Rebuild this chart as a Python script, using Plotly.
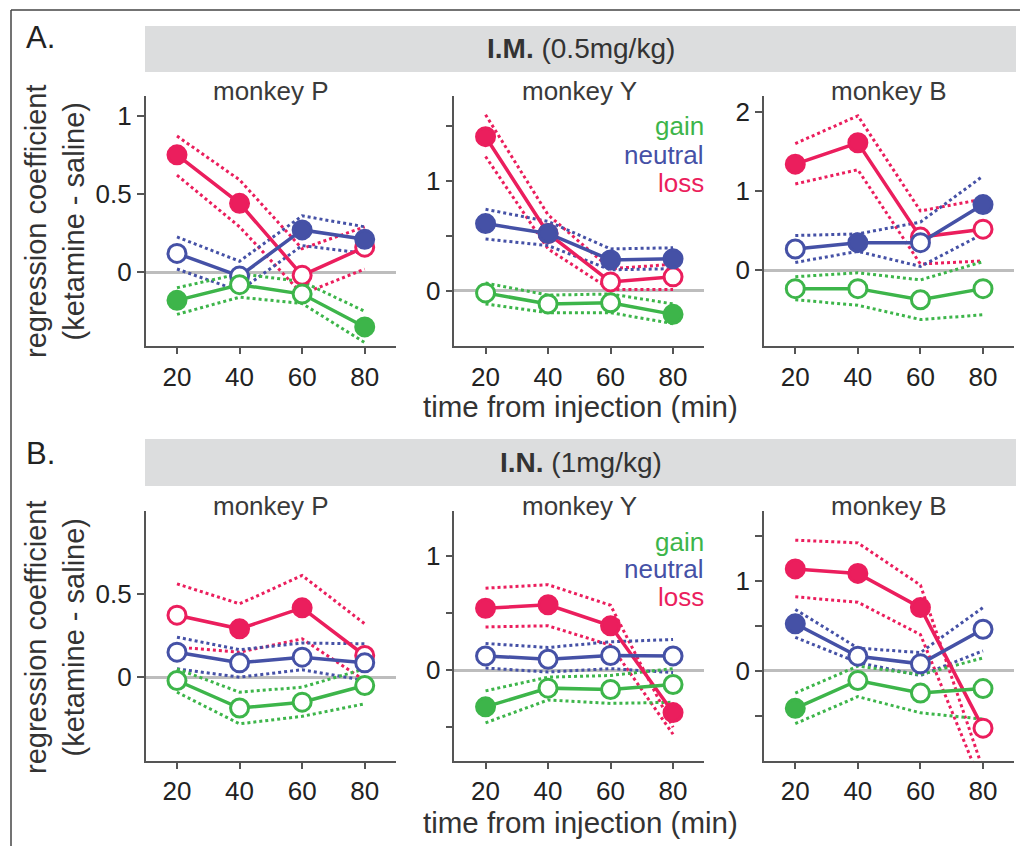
import plotly.graph_objects as go

# page body has an 8px margin: the figure is placed at (8, 8)
OFF = 8
W, H = 1020, 838

TIMES = [20, 40, 60, 80]
CONDITIONS = ["loss", "neutral", "gain"]  # drawing order
COLORS = {"gain": "#3DB54A", "neutral": "#4551A6", "loss": "#EB1E5D"}

# ---------------- A. I.M. (0.5mg/kg) ----------------
# monkey P
IM_P_gain = [-0.18, -0.08, -0.14, -0.35]
IM_P_gain_hi = [-0.10, -0.01, -0.06, -0.25]
IM_P_gain_lo = [-0.27, -0.16, -0.20, -0.45]
IM_P_gain_sig = [1, 0, 0, 1]
IM_P_neutral = [0.12, -0.025, 0.27, 0.21]
IM_P_neutral_hi = [0.225, 0.07, 0.36, 0.29]
IM_P_neutral_lo = [0.02, -0.12, 0.17, 0.12]
IM_P_neutral_sig = [0, 0, 1, 1]
IM_P_loss = [0.75, 0.44, -0.02, 0.16]
IM_P_loss_hi = [0.87, 0.59, 0.15, 0.29]
IM_P_loss_lo = [0.62, 0.29, -0.14, 0.02]
IM_P_loss_sig = [1, 1, 0, 0]
# monkey Y
IM_Y_gain = [-0.02, -0.12, -0.11, -0.215]
IM_Y_gain_hi = [0.07, -0.04, -0.03, -0.12]
IM_Y_gain_lo = [-0.12, -0.20, -0.20, -0.30]
IM_Y_gain_sig = [0, 0, 0, 1]
IM_Y_neutral = [0.61, 0.52, 0.28, 0.29]
IM_Y_neutral_hi = [0.74, 0.63, 0.38, 0.39]
IM_Y_neutral_lo = [0.47, 0.41, 0.19, 0.20]
IM_Y_neutral_sig = [1, 1, 1, 1]
IM_Y_loss = [1.40, 0.52, 0.08, 0.126]
IM_Y_loss_hi = [1.60, 0.69, 0.20, 0.24]
IM_Y_loss_lo = [1.22, 0.38, 0.01, 0.01]
IM_Y_loss_sig = [1, 1, 0, 0]
# monkey B
IM_B_gain = [-0.23, -0.23, -0.37, -0.23]
IM_B_gain_hi = [-0.08, -0.03, -0.12, 0.11]
IM_B_gain_lo = [-0.37, -0.44, -0.62, -0.56]
IM_B_gain_sig = [0, 0, 0, 0]
IM_B_neutral = [0.27, 0.35, 0.35, 0.83]
IM_B_neutral_hi = [0.44, 0.46, 0.61, 1.19]
IM_B_neutral_lo = [0.10, 0.24, 0.05, 0.46]
IM_B_neutral_sig = [0, 1, 0, 1]
IM_B_loss = [1.34, 1.61, 0.42, 0.52]
IM_B_loss_hi = [1.60, 1.95, 0.75, 0.90]
IM_B_loss_lo = [1.09, 1.27, 0.08, 0.12]
IM_B_loss_sig = [1, 1, 0, 0]

# ---------------- B. I.N. (1mg/kg) ----------------
# monkey P
IN_P_gain = [-0.02, -0.185, -0.15, -0.05]
IN_P_gain_hi = [0.05, -0.09, -0.06, 0.05]
IN_P_gain_lo = [-0.09, -0.28, -0.235, -0.16]
IN_P_gain_sig = [0, 0, 0, 0]
IN_P_neutral = [0.15, 0.086, 0.12, 0.086]
IN_P_neutral_hi = [0.24, 0.165, 0.205, 0.20]
IN_P_neutral_lo = [0.05, 0.0, 0.045, -0.02]
IN_P_neutral_sig = [0, 0, 0, 0]
IN_P_loss = [0.372, 0.29, 0.416, 0.13]
IN_P_loss_hi = [0.56, 0.44, 0.61, 0.32]
IN_P_loss_lo = [0.18, 0.15, 0.23, -0.02]
IN_P_loss_sig = [0, 1, 1, 0]
# monkey Y
IN_Y_gain = [-0.32, -0.156, -0.168, -0.124]
IN_Y_gain_hi = [-0.18, -0.06, -0.045, 0.015]
IN_Y_gain_lo = [-0.46, -0.26, -0.29, -0.28]
IN_Y_gain_sig = [1, 0, 0, 0]
IN_Y_neutral = [0.126, 0.097, 0.13, 0.126]
IN_Y_neutral_hi = [0.235, 0.20, 0.25, 0.27]
IN_Y_neutral_lo = [0.02, -0.015, 0.015, -0.02]
IN_Y_neutral_sig = [0, 0, 0, 0]
IN_Y_loss = [0.544, 0.574, 0.39, -0.37]
IN_Y_loss_hi = [0.72, 0.75, 0.57, -0.50]
IN_Y_loss_lo = [0.38, 0.39, 0.22, -0.56]
IN_Y_loss_sig = [1, 1, 1, 1]
# monkey B
IN_B_gain = [-0.42, -0.11, -0.25, -0.20]
IN_B_gain_hi = [-0.25, 0.05, -0.045, 0.14]
IN_B_gain_lo = [-0.59, -0.29, -0.47, -0.54]
IN_B_gain_sig = [1, 0, 0, 0]
IN_B_neutral = [0.52, 0.16, 0.075, 0.46]
IN_B_neutral_hi = [0.68, 0.25, 0.20, 0.70]
IN_B_neutral_lo = [0.37, 0.09, -0.055, 0.22]
IN_B_neutral_sig = [1, 0, 0, 0]
IN_B_loss = [1.13, 1.08, 0.70, -0.64]
IN_B_loss_hi = [1.45, 1.42, 0.95, -1.10]
IN_B_loss_lo = [0.82, 0.76, 0.40, -1.30]
IN_B_loss_sig = [1, 1, 1, 0]

MONKEYS = ["P", "Y", "B"]
Y_RANGES = {
    ("IM", "P"): [-0.47, 1.126], ("IM", "Y"): [-0.5, 1.77], ("IM", "B"): [-0.95, 2.2],
    ("IN", "P"): [-0.5, 1.0], ("IN", "Y"): [-0.79, 1.4], ("IN", "B"): [-1.0, 1.78],
}
Y_TICKS = {
    ("IM", "P"): ([0, 0.5, 1], ["0", "0.5", "1"]),
    ("IM", "Y"): ([0, 0.5, 1, 1.5], ["0", "", "1", ""]),
    ("IM", "B"): ([0, 1, 2], ["0", "1", "2"]),
    ("IN", "P"): ([0, 0.5], ["0", "0.5"]),
    ("IN", "Y"): ([-0.5, 0, 0.5, 1], ["", "0", "", "1"]),
    ("IN", "B"): ([-0.5, 0, 0.5, 1, 1.5], ["", "0", "", "1", ""]),
}

g = globals()


def series(row, mk, cond):
    base = f"{row}_{mk}_{cond}"
    return g[base], g[base + "_hi"], g[base + "_lo"], g[base + "_sig"]


def fx(px):
    return (px - OFF) / W


def fy(py):
    return 1 - (py - OFF) / H


COL_DOM = [(145.7, 396.0), (454.3, 704.3), (764.0, 1014.3)]
ROW_DOM = {"IM": (96.0, 345.7), "IN": (510.5, 760.5)}

FONT = "Liberation Sans, Arial, Helvetica, sans-serif"
TXT = "#333333"
AX = "#555555"

fig = go.Figure()
layout = dict(
    width=W, height=H, margin=dict(l=0, r=0, t=0, b=0),
    paper_bgcolor="white", plot_bgcolor="white", showlegend=False,
    font=dict(family=FONT, color=TXT),
)
annotations = []
shapes = []

idx = 0
for row in ["IM", "IN"]:
    for ci, mk in enumerate(MONKEYS):
        idx += 1
        xa = "x" if idx == 1 else f"x{idx}"
        ya = "y" if idx == 1 else f"y{idx}"
        xkey = "xaxis" if idx == 1 else f"xaxis{idx}"
        ykey = "yaxis" if idx == 1 else f"yaxis{idx}"
        x0, x1 = COL_DOM[ci]
        ytop, ybot = ROW_DOM[row]
        layout[xkey] = dict(
            domain=[fx(x0), fx(x1)], anchor=ya, range=[10, 90],
            tickvals=TIMES, ticktext=[str(t) for t in TIMES],
            showgrid=False, zeroline=False, showline=True, linecolor=AX, linewidth=1.5,
            ticks="outside", ticklen=7, tickwidth=1.5, tickcolor=AX,
            tickfont=dict(size=26, color="#222222", family=FONT),
        )
        tv, tt = Y_TICKS[(row, mk)]
        layout[ykey] = dict(
            domain=[fy(ybot), fy(ytop)], anchor=xa, range=Y_RANGES[(row, mk)],
            tickvals=tv, ticktext=tt,
            showgrid=False, zeroline=True, zerolinecolor="#BDBDBD", zerolinewidth=2.5,
            showline=True, linecolor=AX, linewidth=1.5,
            ticks="outside", ticklen=7, tickwidth=1.5, tickcolor=AX,
            tickfont=dict(size=26, color="#222222", family=FONT),
        )
        # dotted CI lines
        for cond in CONDITIONS:
            m, hi, lo, sig = series(row, mk, cond)
            for b in (hi, lo):
                fig.add_trace(go.Scatter(
                    x=TIMES, y=b, xaxis=xa, yaxis=ya, mode="lines",
                    line=dict(color=COLORS[cond], width=3, dash="dot"),
                    hoverinfo="skip"))
        # mean lines with markers
        for cond in CONDITIONS:
            m, hi, lo, sig = series(row, mk, cond)
            c = COLORS[cond]
            fig.add_trace(go.Scatter(
                x=TIMES, y=m, xaxis=xa, yaxis=ya, mode="lines+markers", name=cond,
                line=dict(color=c, width=3.5),
                marker=dict(size=18, color=[c if s else "white" for s in sig],
                            line=dict(color=c, width=3)),
                cliponaxis=False))
        # monkey title
        annotations.append(dict(
            x=fx((x0 + x1) / 2), y=fy(ytop - 5), xref="paper", yref="paper",
            text=f"monkey {mk}", showarrow=False, xanchor="center", yanchor="middle",
            font=dict(size=26, color="#3a3a3a", family=FONT)))

# legends in middle panels
for row, ys in (("IM", (125.7, 155.0, 183.3)), ("IN", (541.7, 569.3, 597.3))):
    for cond, yy in zip(["gain", "neutral", "loss"], ys):
        annotations.append(dict(
            x=fx(706), y=fy(yy), xref="paper", yref="paper", text=cond,
            showarrow=False, xanchor="right", yanchor="middle",
            font=dict(size=26, color=COLORS[cond], family=FONT)))

# header bars
for (yt, yb, label) in ((26, 72, "<b>I.M.</b> (0.5mg/kg)"), (439, 486, "<b>I.N.</b> (1mg/kg)")):
    shapes.append(dict(type="rect", xref="paper", yref="paper",
                       x0=fx(145), x1=fx(1016), y0=fy(yb), y1=fy(yt),
                       fillcolor="#DCDDDE", line=dict(width=0), layer="below"))
    annotations.append(dict(
        x=fx(581), y=fy((yt + yb) / 2), xref="paper", yref="paper", text=label,
        showarrow=False, xanchor="center", yanchor="middle",
        font=dict(size=28, color=TXT, family=FONT)))

# panel letters
for (yy, lab) in ((38, "A."), (453, "B.")):
    annotations.append(dict(
        x=fx(24), y=fy(yy), xref="paper", yref="paper", text=lab,
        showarrow=False, xanchor="left", yanchor="middle",
        font=dict(size=31, color="#222222", family=FONT)))

# y-axis titles
for yc in (221, 637):
    annotations.append(dict(
        x=fx(55), y=fy(yc), xref="paper", yref="paper",
        text="regression coefficient<br>(ketamine - saline)",
        showarrow=False, textangle=-90, xanchor="center", yanchor="middle",
        font=dict(size=29, color=TXT, family=FONT)))

# x-axis titles
for yc in (406, 822):
    annotations.append(dict(
        x=fx(580), y=fy(yc), xref="paper", yref="paper",
        text="time from injection (min)", showarrow=False,
        xanchor="center", yanchor="middle",
        font=dict(size=29.5, color=TXT, family=FONT)))

# outer frame
shapes.append(dict(type="line", xref="paper", yref="paper", x0=fx(11), x1=1, y0=fy(10), y1=fy(10),
                   line=dict(color="#444444", width=1.5)))
shapes.append(dict(type="line", xref="paper", yref="paper", x0=fx(11), x1=fx(11), y0=0, y1=fy(10),
                   line=dict(color="#444444", width=1.5)))

layout["annotations"] = annotations
layout["shapes"] = shapes
fig.update_layout(**layout)
fig.write_html("out.html")
